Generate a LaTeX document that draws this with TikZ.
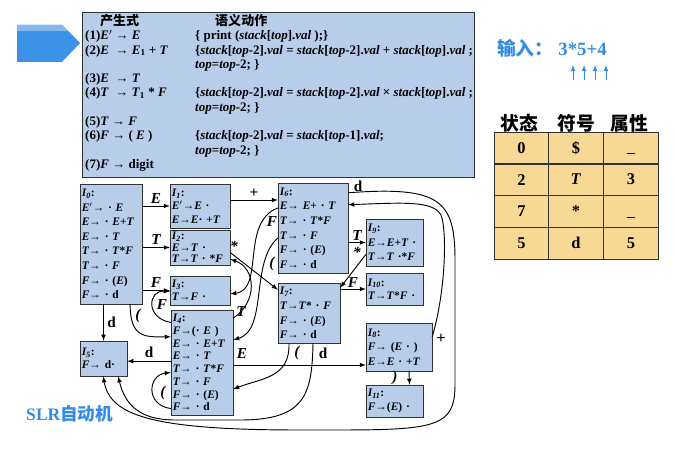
\documentclass[tikz,border=0pt]{standalone}
\usepackage{fontspec}
\setmainfont{Liberation Serif}
\newfontfamily\cjk{Noto Sans CJK SC}
\definecolor{boxblue}{RGB}{184,205,234}
\definecolor{cellyel}{RGB}{247,216,148}
\definecolor{titleblue}{RGB}{50,140,230}
\newcommand{\ii}[1]{\textit{#1}}
\newcommand{\blank}{\raisebox{-1.6ex}{\rule{0.5em}{0.7pt}}}
\begin{document}
\begin{tikzpicture}[x=0.03cm, y=-0.03cm,
    st/.style={draw=black!80, fill=boxblue, align=left, inner sep=1.5pt, anchor=center,
      font=\fontsize{9.8}{11.5}\selectfont\bfseries},
    ar/.style={-latex, thick},
    lab/.style={font=\fontsize{13}{14}\selectfont\bfseries\itshape, inner sep=0pt},
    cell/.style={draw=black!80, fill=cellyel, minimum width=1.64cm, minimum height=0.95cm,
      font=\fontsize{14}{15}\selectfont\bfseries, inner sep=0pt}]
  \useasboundingbox (0,0) rectangle (675,455);
  % arrow marker and grammar box
  \fill[titleblue!95] (17,25) -- (62,25) -- (80,43) -- (62,62) -- (17,62) -- cycle;
  \fill[titleblue!60] (17,25) -- (62,25) -- (68,31) -- (17,31) -- cycle;
  \node[draw=black!80, fill=boxblue, minimum width=11.76cm, minimum height=4.95cm, anchor=north west]
    (gram) at (82,12) {};
  \node[anchor=north west, inner sep=0pt, align=left, font=\fontsize{11.1}{12.2}\selectfont\bfseries]
    (rules) at (85,14) {%
    \begin{tabular}{@{}p{3.3cm}@{}l@{}}
      \hspace{0.45cm}{\cjk\bfseries 产生式} & \hspace{0.6cm}{\cjk\bfseries 语义动作}\\
      (1)\ii{E}$'$ → \ii{E} & \{ print (\ii{stack}[\ii{top}].\ii{val} );\}\\
      (2)\ii{E} \ → \ii{E}\textsubscript{1} + \ii{T} & \{\ii{stack}[\ii{top}-2].\ii{val} = \ii{stack}[\ii{top}-2].\ii{val} + \ii{stack}[\ii{top}].\ii{val} ;\\
       & \ii{top}=\ii{top}-2; \}\\
      (3)\ii{E} \ → \ii{T} & \\
      (4)\ii{T} \ → \ii{T}\textsubscript{1} * \ii{F} & \{\ii{stack}[\ii{top}-2].\ii{val} = \ii{stack}[\ii{top}-2].\ii{val} × \ii{stack}[\ii{top}].\ii{val} ;\\
       & \ii{top}=\ii{top}-2; \}\\
      (5)\ii{T} → \ii{F} & \\
      (6)\ii{F} → ( \ii{E} ) & \{\ii{stack}[\ii{top}-2].\ii{val} = \ii{stack}[\ii{top}-1].\ii{val};\\
       & \ii{top}=\ii{top}-2; \}\\
      (7)\ii{F} → digit & \\
    \end{tabular}};
  % states
  \node[st, text width=1.75cm, minimum height=3.6cm, font=\fontsize{9.8}{12.4}\selectfont\bfseries] (i0) at (111,244)
    {\ii{I\textsubscript{0}}:\\ \ii{E}$'$→ · \ii{E}\\ \ii{E}→ · \ii{E}+\ii{T}\\ \ii{E}→ · \ii{T}\\
     \ii{T}→ · \ii{T}*\ii{F}\\ \ii{T}→ · \ii{F}\\ \ii{F}→ · (\ii{E})\\ \ii{F}→ · d};
  \node[st, text width=1.69cm, minimum height=1.32cm] (i1) at (200,206)
    {\ii{I\textsubscript{1}}:\\ \ii{E}$'$→\ii{E} ·\\ \ii{E}→\ii{E}· +\ii{T}};
  \node[st, text width=1.69cm, minimum height=1.05cm, font=\fontsize{9.8}{10}\selectfont\bfseries] (i2) at (200,247.5)
    {\ii{I\textsubscript{2}}:\\ \ii{E}→\ii{T} ·\\ \ii{T}→\ii{T} · *\ii{F}};
  \node[st, text width=1.69cm, minimum height=0.87cm] (i3) at (200,290.5)
    {\ii{I\textsubscript{3}}:\\ \ii{T}→\ii{F} ·};
  \node[st, text width=1.75cm, minimum height=3.15cm, font=\fontsize{9.8}{10.9}\selectfont\bfseries] (i4) at (202,362.5)
    {\ii{I\textsubscript{4}}:\\ \ii{F}→(· \ii{E} )\\ \ii{E}→ · \ii{E}+\ii{T}\\ \ii{E}→ · \ii{T}\\
     \ii{T}→ · \ii{T}*\ii{F}\\ \ii{T}→ · \ii{F}\\ \ii{F}→ · (\ii{E})\\ \ii{F}→ · d};
  \node[st, text width=1.3cm, minimum height=1.05cm] (i5) at (103.5,358.5)
    {\ii{I\textsubscript{5}}:\\ \ii{F}→ d·};
  \node[st, text width=1.99cm, minimum height=2.7cm, font=\fontsize{9.8}{12.5}\selectfont\bfseries] (i6) at (313,228)
    {\ii{I\textsubscript{6}}:\\ \ii{E}→ \ii{E}+ · \ii{T}\\ \ii{T}→ · \ii{T}*\ii{F}\\ \ii{T}→ · \ii{F}\\
     \ii{F}→ · (\ii{E})\\ \ii{F}→ · d};
  \node[st, text width=1.75cm, minimum height=1.8cm, font=\fontsize{9.8}{12.5}\selectfont\bfseries] (i7) at (309,313)
    {\ii{I\textsubscript{7}}:\\ \ii{T}→\ii{T}* · \ii{F}\\ \ii{F}→ · (\ii{E})\\ \ii{F}→ · d};
  \node[st, text width=1.87cm, minimum height=1.44cm, font=\fontsize{9.8}{12.5}\selectfont\bfseries] (i8) at (399,347)
    {\ii{I\textsubscript{8}}:\\ \ii{F}→ (\ii{E} · )\\ \ii{E}→\ii{E} · +\ii{T}};
  \node[st, text width=1.6cm, minimum height=1.41cm, font=\fontsize{9.8}{12.5}\selectfont\bfseries] (i9) at (394.5,242.5)
    {\ii{I\textsubscript{9}}:\\ \ii{E}→\ii{E}+\ii{T} ·\\ \ii{T}→\ii{T} ·*\ii{F}};
  \node[st, text width=1.6cm, minimum height=0.96cm] (i10) at (394.5,289)
    {\ii{I\textsubscript{10}}:\\ \ii{T}→\ii{T}*\ii{F} ·};
  \node[st, text width=1.6cm, minimum height=0.96cm] (i11) at (394.5,401)
    {\ii{I\textsubscript{11}}:\\ \ii{F}→(\ii{E}) ·};
  % transitions
  \draw[ar] (i0.east |- i1.west) -- node[lab, above=2pt] {E} (i1.west);
  \draw[ar] (i0.east |- i2.west) -- node[lab, above=2pt] {T} (i2.west);
  \draw[ar] (i0.east |- i3.west) -- node[lab, above=2pt] {F} (i3.west);
  \draw[ar] (i0.south -| i5.north) -- node[lab, right=3pt, font=\fontsize{13}{14}\selectfont\bfseries] {d} (i5.north);
  \draw[ar] ([xshift=-0.36cm]i0.south east) .. controls (130,338) and (145,337) .. ([yshift=0.77cm]i4.west);
  \node[lab] (p0) at (138,316) {(};
  \draw[ar] (i1.east |- 0,200) coordinate (c1) -- node[lab, above=2pt, font=\fontsize{13}{14}\selectfont\bfseries] {+} (c1 -| i6.west);
  \draw[ar] ([yshift=-0.15cm]i2.east) -- ([yshift=-0.21cm]i7.north west);
  \node[lab] (s2) at (234,246) {*};
  \draw[ar] ([yshift=-0.38cm]i4.north west) .. controls (145,318) and (148,290) .. ([yshift=-0.03cm]i3.west);
  \node[lab] (f4) at (162,305) {F};
  \draw[ar] ([yshift=-0.25cm]i4.north east) .. controls (258,302) and (256,268) .. ([yshift=-0.35cm]i2.east);
  \node[lab] (t4) at (241,312) {T};
  \draw[ar] ([yshift=0.6cm]i6.west) .. controls (240,222) and (265,290) .. ([yshift=-0.1cm]i3.east);
  \node[lab] (f6) at (272,222) {F};
  \draw[ar] ([yshift=-0.3cm]i6.west) .. controls (250,262) and (268,330) .. ([yshift=0.68cm]i4.east);
  \node[lab] (p6) at (272,264) {(};
  \draw[ar] (i6.east |- i9.west) -- node[lab, above=1pt] {T} (i9.west);
  \draw[ar] ([yshift=-0.36cm]i9.west) -- ([yshift=-0.15cm]i7.north east);
  \node[lab] (s9) at (357,252) {*};
  \draw[ar] (i7.east |- i10.west) -- node[lab, above=1pt] {F} (i10.west);
  \draw[ar] ([yshift=-0.08cm]i4.west |- i5.east) -- node[lab, above=3pt, font=\fontsize{13}{14}\selectfont\bfseries] {d} ([yshift=-0.08cm]i5.east);
  \coordinate (e8) at ([yshift=-0.54cm]i8.west);
  \draw[ar] (i4.east |- e8) -- (e8);
  \node[lab] (e4) at (242,354) {E};
  \draw[ar] ([yshift=0.2cm]i4.south west) .. controls (145,405) and (148,375) .. ([yshift=-0.3cm]i4.west);
  \node[lab] (p4) at (163,393) {(};
  \draw[ar] ([yshift=-0.3cm]i6.north east) .. controls (440,186) and (455,200) .. (455,260)
    -- (455,385) .. controls (455,432) and (430,430) .. (300,430)
    .. controls (150,430) and (110,415) .. ([xshift=-0.01cm]i5.south);
  \node[lab, font=\fontsize{13}{14}\selectfont\bfseries] (d6) at (358,186) {d};
  \draw[ar] ([yshift=0.3cm]i8.east) .. controls (446,290) and (447,230) .. (441,215)
    .. controls (433,200) and (400,203) .. ([yshift=0.7cm]i6.east);
  \node[lab, font=\fontsize{14}{15}\selectfont\bfseries] (pl8) at (441,339) {+};
  \draw[ar] ([xshift=-0.6cm]i7.south) .. controls (290,378) and (262,378) .. ([yshift=-0.8cm]i4.east);
  \node[lab] (p7) at (297,353) {(};
  \draw[ar] ([xshift=0.12cm]i7.south) .. controls (312,395) and (305,420) .. (240,420)
    -- (175,420) .. controls (140,420) and (125,405) .. ([xshift=0.44cm]i5.south);
  \node[lab, font=\fontsize{13}{14}\selectfont\bfseries] (d7) at (323,353) {d};
  \draw[ar] ([xshift=0.3cm]i8.south) -- ([xshift=0.45cm]i11.north);
  \node[lab] (r8) at (395,378) {)};
  % stack table
  \node[titleblue, font=\fontsize{16}{17}\selectfont\bfseries, anchor=west, inner sep=0pt] (inp) at (497,48)
    {{\cjk\bfseries 输入：}\hspace{0.15cm}3*5+4};
  \foreach \x [count=\k] in {573,584,595,606}
    \draw[titleblue, -latex, thick] (\x,80) -- (\x,65) coordinate (up\k);
  \node[font=\fontsize{16}{17}\selectfont\cjk\bfseries, anchor=south, inner sep=0pt] (h1) at (519,133) {状态};
  \node[font=\fontsize{16}{17}\selectfont\cjk\bfseries, anchor=south, inner sep=0pt] (h2) at (576,133) {符号};
  \node[font=\fontsize{16}{17}\selectfont\cjk\bfseries, anchor=south, inner sep=0pt] (h3) at (629,133) {属性};
  \foreach \s/\y/\a [count=\r] in {0/\$/\blank, 2/\textit{T}/3, 7/*/\blank, 5/d/5} {
    \node[cell] (c\r a) at (521.5,132+31.75*\r-15.9) {\s};
    \node[cell] (c\r b) at (576,132+31.75*\r-15.9) {\y};
    \node[cell] (c\r c) at (631,132+31.75*\r-15.9) {\a};
  }
  \node[titleblue, font=\fontsize{15}{16}\selectfont\bfseries, anchor=west, inner sep=0pt] (slr) at (26,414)
    {SLR{\cjk 自动机}};
\end{tikzpicture}
\end{document}
